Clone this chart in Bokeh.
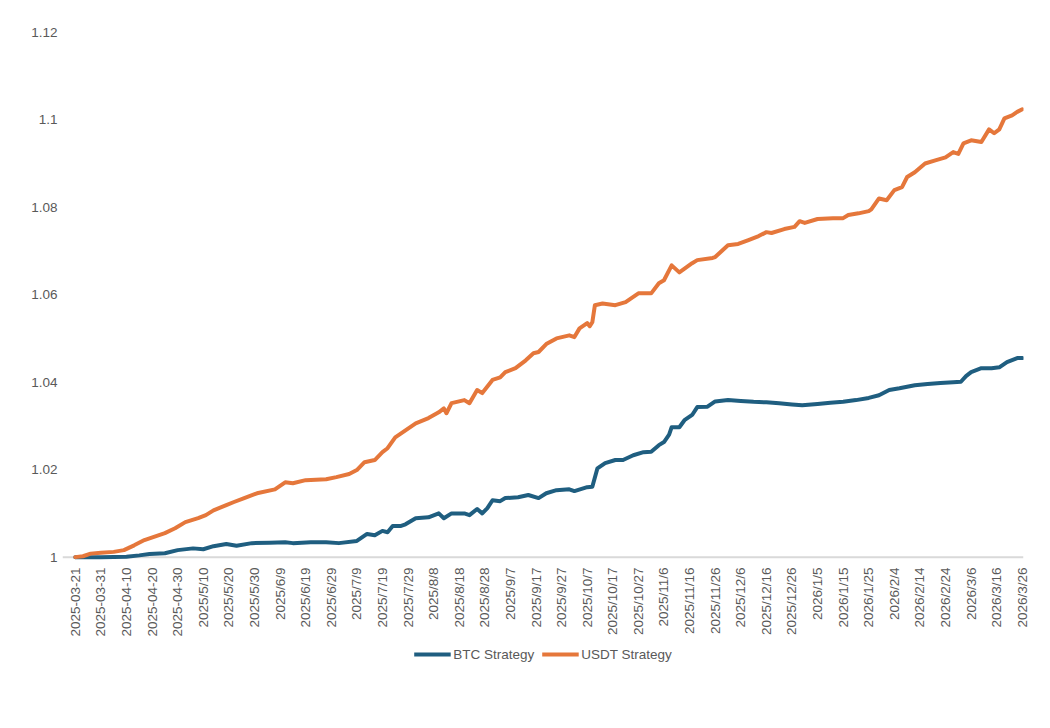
from bokeh.plotting import figure
from bokeh.layouts import column
from bokeh.models import (Range1d, FixedTicker, NumeralTickFormatter, Span,
                          Legend, LegendItem)
from bokeh.embed import file_html
from bokeh.resources import INLINE
import math

# Date axis labels, one every 10 days starting 2025-03-21 (day 0)
tick_labels = [
    "2025-03-21", "2025-03-31", "2025-04-10", "2025-04-20", "2025-04-30",
    "2025/5/10", "2025/5/20", "2025/5/30", "2025/6/9", "2025/6/19",
    "2025/6/29", "2025/7/9", "2025/7/19", "2025/7/29", "2025/8/8",
    "2025/8/18", "2025/8/28", "2025/9/7", "2025/9/17", "2025/9/27",
    "2025/10/7", "2025/10/17", "2025/10/27", "2025/11/6", "2025/11/16",
    "2025/11/26", "2025/12/6", "2025/12/16", "2025/12/26", "2026/1/5",
    "2026/1/15", "2026/1/25", "2026/2/4", "2026/2/14", "2026/2/24",
    "2026/3/6", "2026/3/16", "2026/3/26",
]
tick_days = [10 * i for i in range(len(tick_labels))]

# USDT Strategy net value (day offset, value)
usdt_day = [0, 3, 6, 10, 15, 19, 23, 27, 31, 35, 39, 43, 48, 51, 54, 59, 62,
            66, 71, 78, 82, 85, 90, 98, 102, 107, 110, 113, 117, 120, 122, 125,
            129, 133, 138, 142, 144, 145, 147, 152, 154, 157, 159, 163, 166,
            168, 172, 176, 179, 181, 184, 188, 193, 195, 197, 200, 201, 202,
            203, 206, 211, 215, 220, 225, 228, 230, 233, 236, 241, 243, 249,
            250, 255, 259, 263, 267, 270, 272, 277, 281, 283, 285, 290, 296,
            300, 302, 306, 310, 311, 314, 317, 320, 323, 325, 328, 332, 336,
            340, 343, 345, 347, 350, 354, 357, 359, 361, 363, 366, 368, 370]
usdt_val = [1.0000, 1.0002, 1.0008, 1.0010, 1.0012, 1.0016, 1.0027, 1.0039,
            1.0047, 1.0055, 1.0066, 1.0080, 1.0089, 1.0096, 1.0107, 1.0119,
            1.0126, 1.0135, 1.0146, 1.0155, 1.0171, 1.0169, 1.0176, 1.0178,
            1.0183, 1.0190, 1.0199, 1.0217, 1.0222, 1.0240, 1.0249, 1.0274,
            1.0290, 1.0306, 1.0318, 1.0331, 1.0340, 1.0329, 1.0352, 1.0359,
            1.0352, 1.0382, 1.0375, 1.0405, 1.0411, 1.0423, 1.0432, 1.0450,
            1.0466, 1.0469, 1.0487, 1.0500, 1.0507, 1.0503, 1.0523, 1.0535,
            1.0528, 1.0537, 1.0576, 1.0580, 1.0576, 1.0583, 1.0603, 1.0603,
            1.0626, 1.0633, 1.0667, 1.0651, 1.0672, 1.0679, 1.0684, 1.0686,
            1.0713, 1.0716, 1.0725, 1.0734, 1.0743, 1.0741, 1.0750, 1.0755,
            1.0768, 1.0764, 1.0773, 1.0775, 1.0775, 1.0782, 1.0786, 1.0791,
            1.0795, 1.0820, 1.0816, 1.0839, 1.0846, 1.0869, 1.0880, 1.0900,
            1.0907, 1.0914, 1.0926, 1.0922, 1.0946, 1.0953, 1.0949, 1.0978,
            1.0969, 1.0978, 1.1003, 1.1010, 1.1018, 1.1024]

# BTC Strategy net value (day offset, value)
btc_day = [0, 10, 20, 25, 29, 35, 40, 46, 50, 54, 59, 63, 69, 76, 82, 85, 92,
           98, 103, 110, 112, 114, 117, 120, 122, 124, 127, 129, 133, 138, 142,
           144, 147, 152, 154, 157, 159, 161, 163, 166, 168, 173, 177, 181,
           184, 188, 193, 195, 200, 202, 204, 207, 211, 214, 218, 222, 225,
           228, 230, 232, 233, 236, 238, 241, 243, 247, 250, 255, 260, 265,
           270, 275, 280, 284, 290, 295, 300, 305, 310, 314, 318, 322, 328,
           333, 338, 343, 346, 348, 350, 354, 358, 361, 364, 368, 370]
btc_val = [1.0000, 1.0000, 1.0001, 1.0004, 1.0007, 1.0009, 1.0016, 1.0020,
           1.0018, 1.0025, 1.0030, 1.0026, 1.0032, 1.0033, 1.0034, 1.0032,
           1.0034, 1.0034, 1.0032, 1.0037, 1.0045, 1.0053, 1.0050, 1.0060,
           1.0057, 1.0071, 1.0071, 1.0075, 1.0089, 1.0091, 1.0100, 1.0089,
           1.0100, 1.0100, 1.0096, 1.0110, 1.0100, 1.0112, 1.0130, 1.0128,
           1.0135, 1.0137, 1.0142, 1.0135, 1.0146, 1.0153, 1.0155, 1.0151,
           1.0160, 1.0161, 1.0203, 1.0215, 1.0222, 1.0222, 1.0233, 1.0240,
           1.0241, 1.0256, 1.0263, 1.0280, 1.0297, 1.0297, 1.0313, 1.0325,
           1.0343, 1.0344, 1.0356, 1.0359, 1.0357, 1.0355, 1.0354, 1.0352,
           1.0349, 1.0347, 1.0350, 1.0353, 1.0355, 1.0359, 1.0364, 1.0370,
           1.0382, 1.0386, 1.0393, 1.0396, 1.0398, 1.0400, 1.0401, 1.0414,
           1.0423, 1.0432, 1.0432, 1.0434, 1.0446, 1.0455, 1.0455]

y_ticks = [1.0, 1.02, 1.04, 1.06, 1.08, 1.1, 1.12]

BLUE = "#1F5E80"
ORANGE = "#E5773B"
TEXT = "#595959"
FONT = "Liberation Sans"

# Main chart
p = figure(width=1050, height=646, output_backend="svg", toolbar_location=None,
           x_range=Range1d(-5, 370.46), y_range=Range1d(0.999, 1.122),
           min_border_left=62, min_border_right=27,
           min_border_top=23, min_border_bottom=85)
p.outline_line_color = None
p.xgrid.visible = False
p.ygrid.visible = False
p.background_fill_color = "white"
p.border_fill_color = "white"

# Horizontal category axis line at the base value
base = Span(location=1.0, dimension="width", line_color="#D9D9D9",
            line_width=2, level="underlay")
p.add_layout(base)

p.line(btc_day, btc_val, line_color=BLUE, line_width=4,
       line_join="round", line_cap="round")
p.line(usdt_day, usdt_val, line_color=ORANGE, line_width=4,
       line_join="round", line_cap="round")

xa = p.xaxis[0]
xa.ticker = FixedTicker(ticks=tick_days)
xa.major_label_overrides = {d: lab for d, lab in zip(tick_days, tick_labels)}
xa.major_label_orientation = math.pi / 2
xa.axis_line_color = None
xa.major_tick_line_color = None
xa.minor_tick_line_color = None
xa.major_tick_in = 0
xa.major_tick_out = 0
xa.major_label_standoff = 6
xa.major_label_text_color = TEXT
xa.major_label_text_font = FONT
xa.major_label_text_font_size = "13.5px"

ya = p.yaxis[0]
ya.ticker = FixedTicker(ticks=y_ticks)
ya.formatter = NumeralTickFormatter(format="0.[00]")
ya.axis_line_color = None
ya.major_tick_line_color = None
ya.minor_tick_line_color = None
ya.major_tick_in = 0
ya.major_tick_out = 0
ya.major_label_standoff = 5
ya.major_label_text_color = TEXT
ya.major_label_text_font = FONT
ya.major_label_text_font_size = "13.5px"

# Legend strip underneath the chart; its key lines sit outside the visible range
lg = figure(width=1050, height=82, output_backend="svg", toolbar_location=None,
            x_axis_type=None, y_axis_type=None,
            x_range=Range1d(0, 1), y_range=Range1d(10, 11),
            min_border_left=26, min_border_right=0,
            min_border_top=0, min_border_bottom=0)
lg.outline_line_color = None
lg.xgrid.visible = False
lg.ygrid.visible = False
lg.border_fill_color = "white"
k_btc = lg.line(btc_day, btc_val, line_color=BLUE, line_width=4)
k_usdt = lg.line(usdt_day, usdt_val, line_color=ORANGE, line_width=4)

legend = Legend(items=[LegendItem(label="BTC Strategy", renderers=[k_btc]),
                       LegendItem(label="USDT Strategy", renderers=[k_usdt])],
                orientation="horizontal", location="top_center",
                background_fill_alpha=0, border_line_color=None,
                padding=0, margin=0, spacing=7, label_standoff=3,
                glyph_width=37, glyph_height=16, label_height=16,
                label_text_color=TEXT, label_text_font=FONT,
                label_text_font_size="13.5px")
lg.add_layout(legend, "center")

page = column(p, lg, spacing=0)
open("out.html", "w").write(file_html(page, INLINE))
